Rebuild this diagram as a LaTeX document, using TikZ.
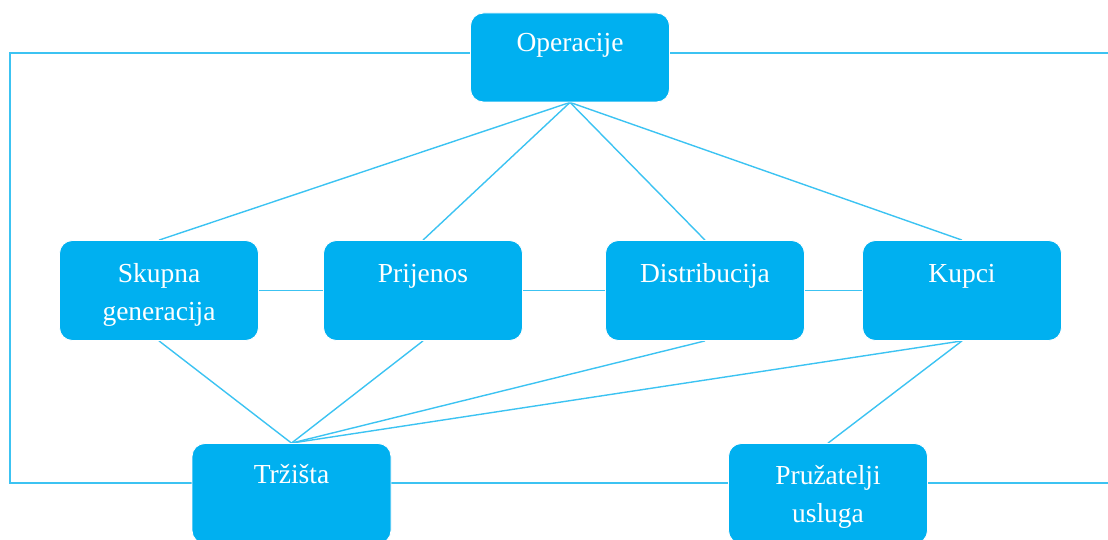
\documentclass[tikz,border=0pt]{standalone}
\usepackage{fontspec}
\setmainfont{Liberation Serif}
\usetikzlibrary{backgrounds}
\begin{document}
\begin{tikzpicture}[x=1pt,y=-1pt,
  box/.style={draw=white, line width=0.8pt, fill=boxblue, rounded corners=13pt, minimum width=199pt, minimum height=100pt, inner sep=0pt},
  lbl/.style={text=white, font=\fontsize{27.5}{38}\selectfont, align=center, anchor=base, inner sep=0pt},
  conn/.style={draw=lineblue, line width=1.4pt}]
\definecolor{boxblue}{HTML}{00B0F0}
\definecolor{lineblue}{HTML}{3CC3F2}
\useasboundingbox (0,0) rectangle (1108,540);
\clip (0,0) rectangle (1108,540);
% boxes
\node[box, minimum height=89pt] (op) at (570,57.5) {};
\node[box] (sk) at (159,290.5) {};
\node[box] (pr) at (423,290.5) {};
\node[box] (di) at (705,290.5) {};
\node[box] (ku) at (962,290.5) {};
\node[box] (tr) at (291.5,493.5) {};
\node[box] (pu) at (828,493.5) {};
% frame coordinates
\coordinate (tl) at (10,53);
\coordinate (bl) at (10,483);
\coordinate (trr) at (1120,53);
\coordinate (brr) at (1120,483);
\begin{scope}[on background layer]
\draw[conn] (op.west |- tl) -- (tl) -- (bl) -- (tr.west |- bl);
\draw[conn] (op.east |- trr) -- (trr);
\draw[conn] (tr.east |- bl) -- (pu.west |- bl);
\draw[conn] (pu.east |- brr) -- (brr);
\draw[conn] (op.south) -- (sk.north);
\draw[conn] (op.south) -- (pr.north);
\draw[conn] (op.south) -- (di.north);
\draw[conn] (op.south) -- (ku.north);
\draw[conn] (sk.east) -- (pr.west);
\draw[conn] (pr.east) -- (di.west);
\draw[conn] (di.east) -- (ku.west);
\draw[conn] (sk.south) -- (tr.north);
\draw[conn] (pr.south) -- (tr.north);
\draw[conn] (di.south) -- (tr.north);
\draw[conn] (ku.south) -- (tr.north);
\draw[conn] (ku.south) -- (pu.north);
\end{scope}
% labels
\node[lbl] (opt) at (570,52) {Operacije};
\node[lbl] (skt) at (159,320) {Skupna\\generacija};
\node[lbl] (prt) at (423,282) {Prijenos};
\node[lbl] (dit) at (705,282) {Distribucija};
\node[lbl] (kut) at (962,282) {Kupci};
\node[lbl] (trt) at (291.5,483) {Tržišta};
\node[lbl] (put) at (828,522) {Pružatelji\\usluga};
\end{tikzpicture}
\end{document}
